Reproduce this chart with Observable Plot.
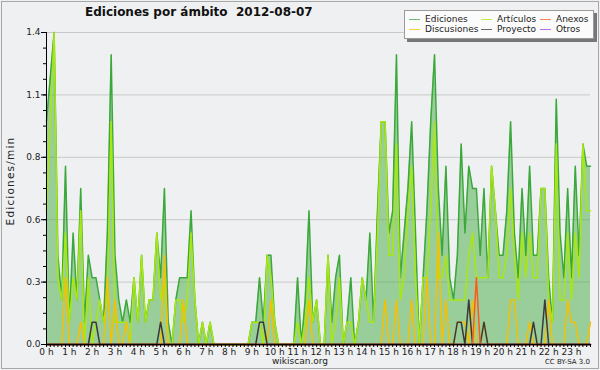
<!DOCTYPE html>
<html><head><meta charset="utf-8">
<script src="https://cdn.jsdelivr.net/npm/d3@7"></script>
<script src="https://cdn.jsdelivr.net/npm/@observablehq/plot@0.6"></script>
<style>
body{margin:0;background:#efefef;}
#wrap{position:relative;width:600px;height:370px;background:#eff0f1;font-family:"DejaVu Sans",sans-serif;overflow:hidden;color:#222}
#frame{position:absolute;left:1px;top:1px;width:596px;height:366px;border:1px solid #a8a8a8;pointer-events:none}
#title{position:absolute;left:85px;top:5px;font-weight:bold;font-size:12px;white-space:pre;color:#111}
#ylab{position:absolute;left:10px;top:181px;transform:translate(-50%,-50%) rotate(-90deg);font-size:10.5px;letter-spacing:1.2px;white-space:nowrap}
#site{position:absolute;left:300px;top:356px;transform:translateX(-50%);font-size:9px}
#cc{position:absolute;right:10px;top:358px;font-size:7px}
#legend{position:absolute;left:404px;top:10px;width:188px;height:27px;background:#fbfbfb;border:1px solid #9a9a9a;box-shadow:3px 3px 0 #777}
.li{position:absolute;font-size:9px;white-space:nowrap;line-height:10px}
.sw{position:absolute;width:11px;height:0;border-top:1.5px solid}
svg{position:absolute;left:0;top:0}
</style></head>
<body>
<div id="wrap">
  <div id="chart"></div>
  <div id="title">Ediciones por ámbito  2012-08-07</div>
  <div id="ylab">Ediciones/min</div>
  <div id="site">wikiscan.org</div>
  <div id="cc">CC BY-SA 3.0</div>
  <div id="legend"></div>
  <div id="frame"></div>
</div>
<script>
// 10-minute buckets, 0:00 .. 23:50 (edits per minute)
const ediciones = [
1.0,1.2,1.4,0.4,0.2,0.8,0.1,0.5,0.2,0.7,0.1,0.4,
0.3,0.3,0.2,0.1,0.5,1.3,0.4,0.2,0.1,0.2,0.1,0.3,
0.1,0.4,0.1,0.2,0.2,0.5,0.3,0.7,0.1,0,0.2,0.3,
0.3,0.3,0.6,0.2,0,0.1,0,0.1,0,0,0,0,
0,0,0,0,0,0,0.1,0.1,0.3,0.1,0.4,0.4,
0.1,0,0,0,0,0,0.3,0,0.2,0.6,0.1,0.2,
0,0,0.4,0.1,0.3,0.4,0,0.1,0.3,0,0.1,0.3,
0.2,0.5,0.1,0.6,1.0,1.0,0.5,0.6,1.3,0.3,0.5,0.7,
1.0,0.5,0,0.3,0.6,1.0,1.3,0.7,0.4,0.8,0.3,0.2,
0.4,0.9,0.5,0.8,0.7,0.7,0.4,0.7,0.3,0.8,0.6,0.4,
0.4,0.6,1.0,0.5,0.3,0.7,0.4,0.8,0.4,0.4,0.7,0.7,
0.3,0.1,1.1,0.5,0.3,0.7,0.3,0.8,0.4,0.9,0.8,0.8];
const articulos = [
0.6,1.0,1.4,0.3,0.2,0.5,0.1,0.3,0.2,0.6,0,0.3,
0,0.1,0.2,0.1,0.2,1.0,0.1,0.1,0.1,0.1,0,0.3,
0.1,0.4,0.1,0.2,0.2,0.5,0.2,0.3,0,0,0.2,0.2,
0.1,0.2,0.5,0.2,0,0.1,0,0.1,0,0,0,0,
0,0,0,0,0,0,0.1,0.1,0.1,0,0.4,0.3,
0.1,0,0,0,0,0,0.1,0,0.1,0.3,0.1,0.2,
0,0,0.4,0,0.1,0.3,0,0.1,0.1,0,0.1,0.3,
0.2,0.1,0.1,0.5,1.0,1.0,0.4,0.4,0.9,0.2,0.3,0.6,
0.8,0.3,0,0.3,0.3,0.6,1.0,0.3,0.3,0.4,0.2,0.2,
0.2,0.2,0.2,0.4,0.5,0.3,0.3,0.3,0.3,0.8,0.6,0.3,
0.3,0.4,0.7,0.4,0.2,0.5,0.3,0.5,0.3,0.3,0.7,0.7,
0.2,0.1,0.9,0.2,0.2,0.5,0.2,0.5,0.3,0.9,0.6,0.6];
const discusiones = [
0,0,0,0,0,0.3,0,0,0,0.1,0,0,
0,0,0,0,0.3,0,0.2,0,0,0.1,0,0,
0,0,0,0,0,0,0,0.4,0,0,0,0,
0.2,0,0,0,0,0,0,0,0,0,0,0,
0,0,0,0,0,0,0,0,0,0,0,0.2,
0,0,0,0,0,0,0,0,0,0.2,0,0,
0,0,0,0,0,0,0,0,0,0,0,0,
0,0,0,0,0,0.2,0,0,0.2,0,0,0,
0.2,0,0,0,0.3,0,0,0.5,0,0.2,0,0,
0.1,0.1,0.1,0,0.2,0,0,0.1,0,0,0,0,
0,0,0.2,0.2,0,0,0,0.1,0,0,0,0,
0.2,0,0,0,0,0.2,0.1,0.1,0,0,0,0.1];
const anexos = [
0,0,0,0,0,0,0,0,0,0,0,0, 0,0,0,0,0,0,0,0,0,0,0,0,
0,0,0,0,0,0,0,0,0,0,0,0, 0,0,0,0,0,0,0,0,0,0,0,0,
0,0,0,0,0,0,0,0,0,0,0,0, 0,0,0,0,0,0,0,0,0,0,0,0,
0,0,0,0,0,0,0,0,0,0,0,0, 0,0,0,0,0,0,0,0,0,0,0,0,
0,0,0,0,0,0,0,0,0,0,0,0, 0,0,0,0,0,0.3,0,0,0,0,0,0,
0,0,0,0,0,0,0,0,0,0,0,0, 0,0,0,0,0,0,0,0,0,0,0,0];
const proyecto = [
0,0,0,0,0,0,0,0,0,0,0,0, 0.1,0.1,0,0,0,0,0,0,0,0,0,0,
0,0,0,0,0,0,0.1,0,0,0,0,0, 0,0,0,0,0,0,0,0,0,0,0,0,
0,0,0,0,0,0,0,0,0.1,0.1,0,0, 0,0,0,0,0,0,0,0,0,0,0,0,
0,0,0,0,0,0,0,0,0,0,0,0, 0,0,0,0,0,0,0,0,0,0,0,0,
0,0,0,0,0,0,0,0,0,0,0,0, 0.1,0.1,0,0.2,0,0,0,0.1,0,0,0,0,
0,0,0,0,0,0,0,0,0.1,0,0,0.2, 0,0,0,0,0,0,0,0,0,0,0,0];
const otros = new Array(144).fill(0);

const seriesNames = ["Ediciones","Artículos","Anexos","Discusiones","Proyecto","Otros"];
const seriesColors = ["#3aa83a","#a8e80e","#ff5a1a","#f5c000","#3a3a3a","#9b3ff0"];
const hourLabels = d3.range(0,24).map(h => h + " h");
const yMajor = [0,0.28,0.56,0.84,1.12,1.4];
const yMinor = d3.range(0,21).map(k => k*0.07);

const data = ediciones.map((v,i)=>({t:i/6, ed:v, art:articulos[i], dis:discusiones[i], anx:anexos[i], pro:proyecto[i], otr:otros[i]}));

const lw = 1.5;
const chart = Plot.plot({
  width:600, height:370,
  marginLeft:46, marginRight:10, marginTop:32, marginBottom:26,
  x:{domain:[0,143/6]},
  y:{domain:[0,1.4]},
  style:{background:"transparent", fontFamily:"DejaVu Sans", fontSize:"9px", color:"#222"},
  marks:[
    Plot.ruleY(yMajor.slice(1), {stroke:"#c9c9c9", strokeWidth:1}),
    Plot.areaY(data, {x:"t", y:"ed", fill:"#3aa83a", fillOpacity:0.47}),
    Plot.lineY(data, {x:"t", y:"otr", stroke:seriesColors[5], strokeWidth:lw}),
    Plot.lineY(data, {x:"t", y:"ed", stroke:seriesColors[0], strokeWidth:lw}),
    Plot.lineY(data, {x:"t", y:"art", stroke:seriesColors[1], strokeWidth:lw}),
    Plot.lineY(data, {x:"t", y:"dis", stroke:seriesColors[3], strokeWidth:lw}),
    Plot.lineY(data, {x:"t", y:"pro", stroke:seriesColors[4], strokeWidth:lw}),
    Plot.lineY(data, {x:"t", y:"anx", stroke:seriesColors[2], strokeWidth:lw}),
    Plot.axisY({ticks:yMajor, tickSize:5, tickPadding:1, tickFormat:d=>d.toFixed(1), label:null, stroke:"#000"}),
    Plot.axisY({ticks:yMinor, tickSize:3, tickFormat:()=>"", label:null, stroke:"#000"}),
    Plot.axisX({ticks:d3.range(0,144).map(k=>k/6), tickSize:3, tickPadding:1, label:null, stroke:"#000",
      tickFormat:d=>{const r=Math.round(d); return Math.abs(d-r)<1e-6 ? hourLabels[r] : "";}}),
    Plot.ruleX([0], {stroke:"#000"}),
    Plot.ruleY([0], {stroke:"#000", strokeWidth:1.5})
  ]
});
document.getElementById("chart").appendChild(chart);

// legend
const leg = document.getElementById("legend");
const cols = [[0,3],[1,4],[2,5]];
const colX = [4,76,135];
cols.forEach((pair,c)=>{
  pair.forEach((si,r)=>{
    const sw = document.createElement("div");
    sw.className="sw"; sw.style.left=colX[c]+"px"; sw.style.top=(8+r*10)+"px";
    sw.style.borderTopColor = seriesColors[si]; sw.style.opacity=0.75;
    leg.appendChild(sw);
    const tx = document.createElement("div");
    tx.className="li"; tx.style.left=(colX[c]+16)+"px"; tx.style.top=(3+r*10)+"px";
    tx.textContent = seriesNames[si];
    leg.appendChild(tx);
  });
});
</script>
</body></html>
